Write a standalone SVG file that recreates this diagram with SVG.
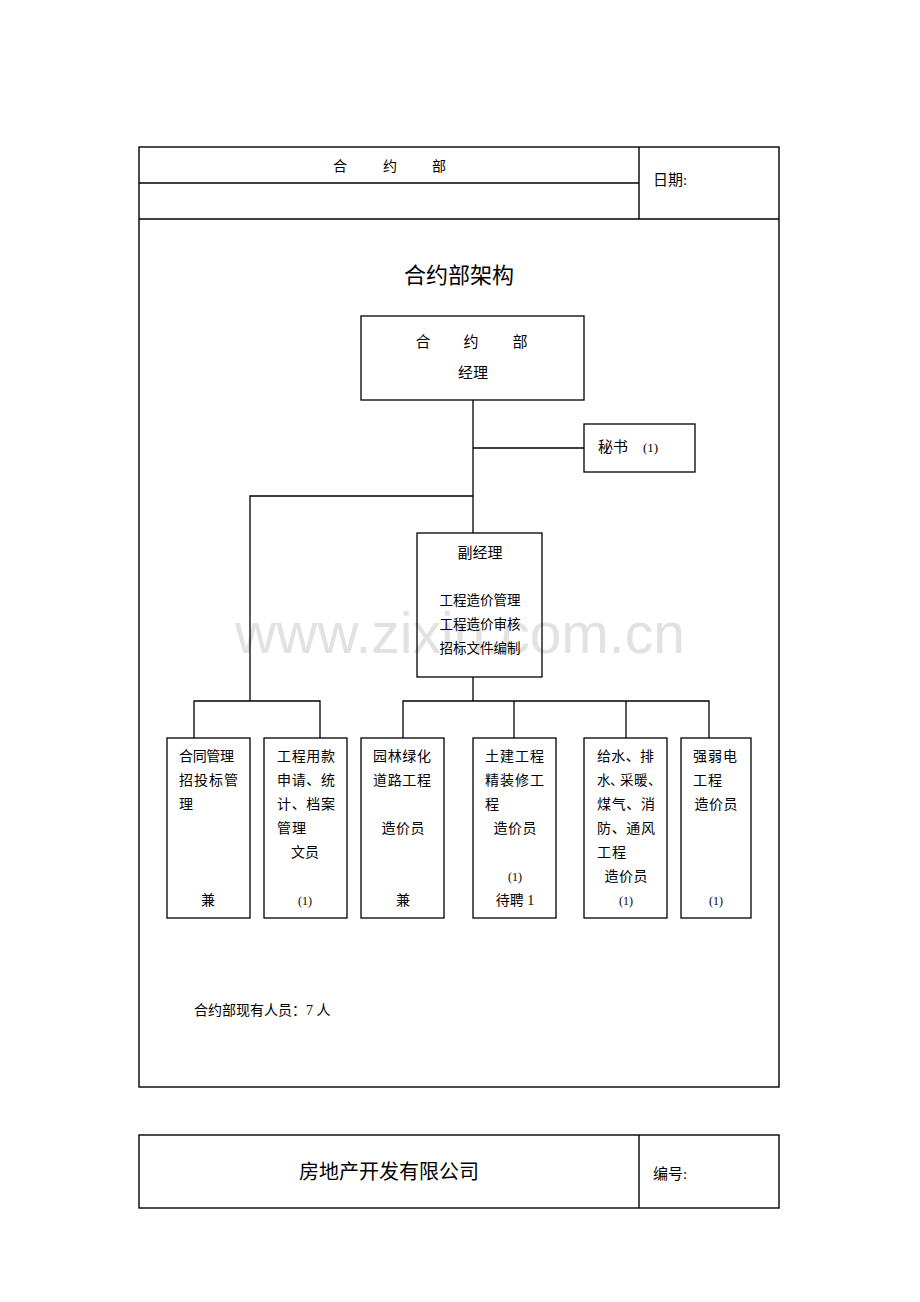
<svg xmlns="http://www.w3.org/2000/svg" width="920" height="1302" viewBox="0 0 920 1302">
<style>
.frame{fill:none;stroke:#000;stroke-width:1.4}
.box{fill:none;stroke:#000;stroke-width:1.3}
.conn{fill:none;stroke:#000;stroke-width:1.3}
.t{font-family:"Liberation Serif","Noto Sans CJK SC",serif;fill:#000;font-size:14px}
.c{text-anchor:middle}
.s12{font-size:12px}
.s13{font-size:13px}
.s135{font-size:13.5px}
.s15{font-size:15px}
.s20{font-size:20px}
.s22{font-size:22px}
.wm{font-family:"Liberation Sans",Arial,sans-serif;font-size:57px;fill:#e2e2e2}
</style>
<rect width="920" height="1302" fill="#fff"/>
<text class="wm" x="460" y="653" text-anchor="middle">www.zixin.com.cn</text>
<g id="header">
<rect class="frame" x="139" y="147" width="640" height="940"/>
<line class="frame" x1="139" y1="219" x2="779" y2="219"/>
<line class="frame" x1="139" y1="183" x2="639" y2="183"/>
<line class="frame" x1="639" y1="147" x2="639" y2="219"/>
<text class="t c" x="340" y="171">合</text>
<text class="t c" x="390" y="171">约</text>
<text class="t c" x="439" y="171">部</text>
<text class="t s15" x="653" y="185">日期:</text>
<text class="t c s22" x="459" y="283">合约部架构</text>
</g>
<g id="connectors">
<polyline class="conn" points="473,400 473,533"/>
<polyline class="conn" points="473,448 584,448"/>
<polyline class="conn" points="473,496 250,496 250,701"/>
<polyline class="conn" points="194,738 194,701 320,701 320,738"/>
<polyline class="conn" points="473,677 473,701"/>
<polyline class="conn" points="403,738 403,701 709,701 709,738"/>
<polyline class="conn" points="514,701 514,738"/>
<polyline class="conn" points="626,701 626,738"/>
</g>
<g id="manager">
<rect class="box" x="361" y="316" width="223" height="84"/>
<text class="t c s15" x="423" y="347">合</text>
<text class="t c s15" x="471" y="347">约</text>
<text class="t c s15" x="520" y="347">部</text>
<text class="t c s15" x="473" y="378">经理</text>
</g>
<g id="secretary">
<rect class="box" x="584" y="424" width="111" height="48"/>
<text class="t s15" x="598" y="452">秘书</text>
<text class="t s13" x="643" y="452">(1)</text>
</g>
<g id="vice">
<rect class="box" x="417" y="533" width="125" height="144"/>
<text class="t c s15" x="480" y="558">副经理</text>
<text class="t c s135" x="480" y="605">工程造价管理</text>
<text class="t c s135" x="480" y="629">工程造价审核</text>
<text class="t c s135" x="480" y="653">招标文件编制</text>
</g>
<g id="box1">
<rect class="box" x="167" y="738" width="83" height="180"/>
<text class="t" x="179" y="761" textLength="55" lengthAdjust="spacing">合同管理</text>
<text class="t" x="179" y="785" textLength="59" lengthAdjust="spacing">招投标管</text>
<text class="t" x="179" y="809">理</text>
<text class="t c" x="208" y="905">兼</text>
</g>
<g id="box2">
<rect class="box" x="264" y="738" width="83" height="180"/>
<text class="t" x="277" y="761" textLength="58" lengthAdjust="spacing">工程用款</text>
<text class="t" x="277" y="785" textLength="58" lengthAdjust="spacing">申请、统</text>
<text class="t" x="277" y="809" textLength="58" lengthAdjust="spacing">计、档案</text>
<text class="t" x="277" y="833" textLength="29" lengthAdjust="spacing">管理</text>
<text class="t c" x="305" y="857">文员</text>
<text class="t c s12" x="305" y="905">(1)</text>
</g>
<g id="box3">
<rect class="box" x="361" y="738" width="83" height="180"/>
<text class="t" x="373" y="761" textLength="58" lengthAdjust="spacing">园林绿化</text>
<text class="t" x="373" y="785" textLength="58" lengthAdjust="spacing">道路工程</text>
<text class="t c" x="403" y="833" textLength="43" lengthAdjust="spacing">造价员</text>
<text class="t c" x="403" y="905">兼</text>
</g>
<g id="box4">
<rect class="box" x="473" y="738" width="83" height="180"/>
<text class="t" x="485" y="761" textLength="59" lengthAdjust="spacing">土建工程</text>
<text class="t" x="485" y="785" textLength="59" lengthAdjust="spacing">精装修工</text>
<text class="t" x="485" y="809">程</text>
<text class="t c" x="515" y="833" textLength="43" lengthAdjust="spacing">造价员</text>
<text class="t c s12" x="515" y="881">(1)</text>
<text class="t c" x="515" y="905">待聘 1</text>
</g>
<g id="box5">
<rect class="box" x="584" y="738" width="83" height="180"/>
<text class="t" x="597" y="761" textLength="57" lengthAdjust="spacing">给水、排</text>
<text class="t s135" x="597 610 620 634 648" y="785">水、采暖、</text>
<text class="t" x="597" y="809" textLength="58" lengthAdjust="spacing">煤气、消</text>
<text class="t" x="597" y="833" textLength="58" lengthAdjust="spacing">防、通风</text>
<text class="t" x="597" y="857" textLength="29" lengthAdjust="spacing">工程</text>
<text class="t c" x="626" y="881" textLength="43" lengthAdjust="spacing">造价员</text>
<text class="t c s12" x="626" y="905">(1)</text>
</g>
<g id="box6">
<rect class="box" x="681" y="738" width="70" height="180"/>
<text class="t" x="693" y="761" textLength="44" lengthAdjust="spacing">强弱电</text>
<text class="t" x="693" y="785" textLength="29" lengthAdjust="spacing">工程</text>
<text class="t c" x="716" y="809" textLength="43" lengthAdjust="spacing">造价员</text>
<text class="t c s12" x="716" y="905">(1)</text>
</g>
<text class="t" x="194" y="1015">合约部现有人员：7 人</text>
<g id="footer">
<rect class="frame" x="139" y="1135" width="640" height="73"/>
<line class="frame" x1="639" y1="1135" x2="639" y2="1208"/>
<text class="t c s20" x="389" y="1179">房地产开发有限公司</text>
<text class="t s15" x="653" y="1179">编号:</text>
</g>
</svg>
